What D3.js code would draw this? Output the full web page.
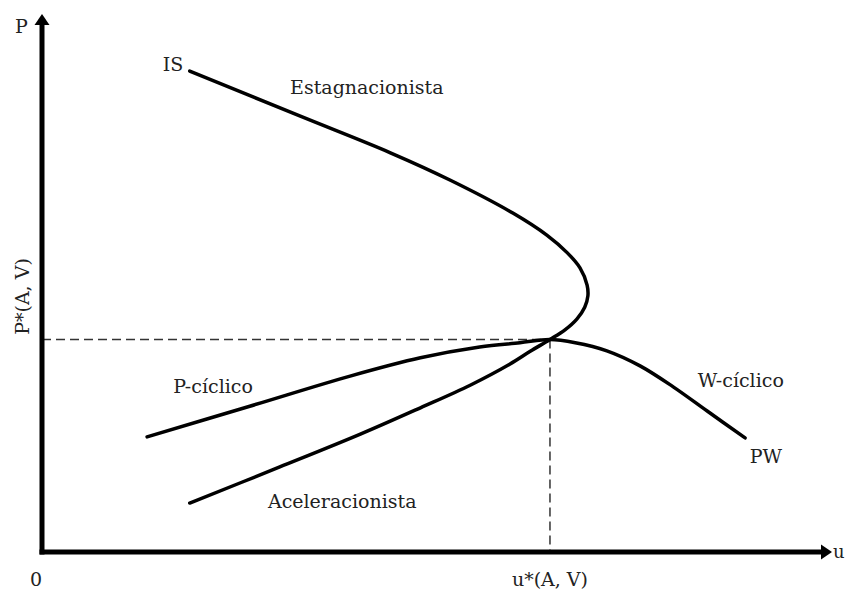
<!DOCTYPE html>
<html>
<head>
<meta charset="utf-8">
<script src="https://cdn.jsdelivr.net/npm/d3@7"></script>
<style>
  body { margin: 0; background: #fff; }
  svg { display: block; }
  text { font-family: "DejaVu Serif", serif; font-size: 19px; fill: #222; }
</style>
</head>
<body>
<div id="chart"></div>
<script>
// curva IS (de cima para baixo, passando pelo vértice)
const isU = [1.87, 3.27, 4.41, 5.17, 5.96, 6.39, 6.65, 6.81, 6.90, 6.91, 6.87, 6.77, 6.62, 6.43, 6.18, 5.92, 5.42, 4.79, 4.03, 3.01, 1.87];
const isP = [8.94, 8.10, 7.42, 6.91, 6.30, 5.89, 5.56, 5.28, 4.96, 4.76, 4.55, 4.33, 4.13, 3.95, 3.73, 3.49, 3.10, 2.68, 2.19, 1.58, 0.91];
// curva PW
const pwU = [1.33, 2.63, 3.90, 4.79, 5.54, 6.05, 6.43, 6.75, 7.15, 7.57, 7.99, 8.42, 8.90];
const pwP = [2.14, 2.71, 3.27, 3.61, 3.81, 3.89, 3.95, 3.89, 3.74, 3.46, 3.07, 2.62, 2.12];
// equilíbrio
const uStar = 6.43, pStar = 3.95;
// rótulos das curvas
const curveLabels = ["IS", "Estagnacionista", "P-cíclico", "Aceleracionista", "W-cíclico", "PW"];
const labelU = [1.53, 3.14, 1.66, 2.86, 8.30, 8.96];
const labelP = [8.94, 8.51, 2.96, 0.82, 3.07, 1.65];

const width = 845, height = 589;

const svg = d3.select("#chart").append("svg")
  .attr("width", width)
  .attr("height", height);

const x = d3.scaleLinear().domain([0, 10]).range([42, 832]);
const y = d3.scaleLinear().domain([0, 10]).range([552, 14]);

// linhas tracejadas
svg.append("line")
  .attr("x1", x(0)).attr("x2", x(uStar))
  .attr("y1", y(pStar)).attr("y2", y(pStar))
  .attr("stroke", "#333").attr("stroke-width", 1.5)
  .attr("stroke-dasharray", "9,5");
svg.append("line")
  .attr("x1", x(uStar)).attr("x2", x(uStar))
  .attr("y1", y(pStar)).attr("y2", y(0))
  .attr("stroke", "#333").attr("stroke-width", 1.5)
  .attr("stroke-dasharray", "9,5");

// curvas
const line = d3.line()
  .x(d => x(d[0]))
  .y(d => y(d[1]))
  .curve(d3.curveCatmullRom.alpha(0.5));

const isData = isU.map((u, i) => [u, isP[i]]);
const pwData = pwU.map((u, i) => [u, pwP[i]]);

svg.selectAll(".curve")
  .data([isData, pwData])
  .join("path")
    .attr("class", "curve")
    .attr("fill", "none")
    .attr("stroke", "#000")
    .attr("stroke-width", 3.5)
    .attr("stroke-linecap", "round")
    .attr("d", line);

// eixos
svg.append("line")
  .attr("x1", x(0)).attr("x2", x(0))
  .attr("y1", y(0) + 2.5).attr("y2", y(10) + 10)
  .attr("stroke", "#000").attr("stroke-width", 5);
svg.append("line")
  .attr("x1", x(0) - 2.5).attr("x2", x(10) - 10)
  .attr("y1", y(0)).attr("y2", y(0))
  .attr("stroke", "#000").attr("stroke-width", 5);

// setas
svg.append("path")
  .attr("d", `M${x(0) - 7.5},${y(10) + 11} L${x(0)},${y(10)} L${x(0) + 7.5},${y(10) + 11} Z`)
  .attr("fill", "#000");
svg.append("path")
  .attr("d", `M${x(10) - 11},${y(0) - 7.5} L${x(10)},${y(0)} L${x(10) - 11},${y(0) + 7.5} Z`)
  .attr("fill", "#000");

// rótulos dos eixos
svg.append("text").attr("x", 15).attr("y", 33).text("P");
svg.append("text").attr("x", 833).attr("y", y(0) + 6).style("font-size", "18px").text("u");
svg.append("text").attr("x", 36).attr("y", 586).attr("text-anchor", "middle").text("0");
svg.append("text").attr("x", x(uStar)).attr("y", 586).attr("text-anchor", "middle").text("u*(A, V)");
svg.append("text")
  .attr("transform", `translate(29,${y(pStar) - 43}) rotate(-90)`)
  .attr("text-anchor", "middle")
  .text("P*(A, V)");

// rótulos das curvas
svg.selectAll(".lbl")
  .data(curveLabels)
  .join("text")
    .attr("class", "lbl")
    .attr("x", (d, i) => x(labelU[i]))
    .attr("y", (d, i) => y(labelP[i]))
    .text(d => d);
</script>
</body>
</html>
